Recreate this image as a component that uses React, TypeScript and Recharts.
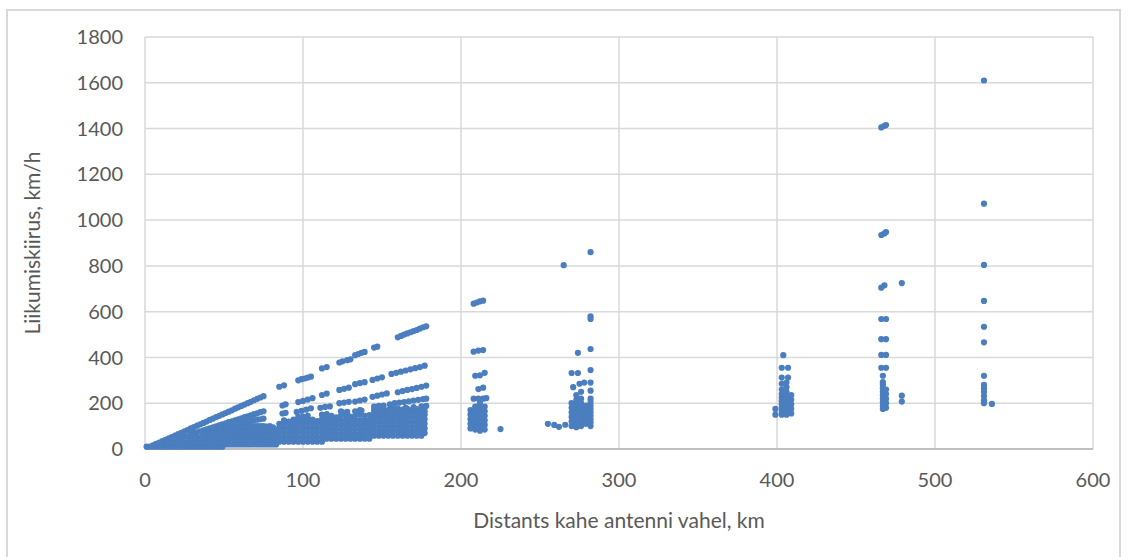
import { ScatterChart, Scatter, XAxis, YAxis, CartesianGrid } from 'recharts';

type Col = [number, number[]];
type Pair = [number, number];

const xTicks = [0, 100, 200, 300, 400, 500, 600];
const yTicks = [0, 200, 400, 600, 800, 1000, 1200, 1400, 1600, 1800];

// dense block, short distances (km -> speeds km/h)
const shortBlock: Col[] = [
  [1, [10]], [3, [10]], [5, [10, 16]], [7, [10, 22]], [9, [10, 28]],
  [11, [10, 34]], [13, [10, 25, 40]], [15, [10, 28, 46]], [17, [10, 30, 52]],
  [19, [10, 30, 58]], [21, [10, 30, 48, 65]], [23, [10, 30, 50, 71]],
  [25, [10, 30, 55, 77]], [27, [10, 30, 55, 83]], [29, [10, 30, 50, 70, 90]],
  [31, [10, 30, 50, 72, 96]], [33, [10, 30, 50, 73, 102]],
  [35, [10, 30, 50, 77]], [37, [10, 30, 50, 65, 81]], [39, [10, 30, 50, 68, 86]],
  [41, [10, 30, 50, 70, 90]], [43, [10, 30, 50, 72, 95]], [45, [10, 30, 50, 75, 99]],
  [47, [10, 30, 50, 70, 88, 103]], [49, [10, 30, 50, 70, 90, 108]],
  [51, [20, 40, 60, 80, 95, 112]], [53, [20, 40, 60, 80, 98, 117]],
  [55, [20, 40, 60, 80, 100, 121]], [57, [20, 40, 60, 80, 103, 125]],
  [59, [20, 40, 60, 80, 105, 130]], [61, [20, 40, 60, 80, 100, 115, 134]],
  [63, [20, 40, 60, 80, 100, 118, 139]], [65, [20, 40, 60, 80, 100, 120, 143]],
  [67, [20, 40, 60, 80, 100, 123, 147]], [69, [20, 40, 60, 80, 100, 126, 152]],
  [71, [20, 40, 60, 80, 100, 128, 156]], [73, [20, 40, 60, 80, 100, 130, 161]],
  [75, [20, 40, 60, 80, 100, 133, 165]], [77, [20, 40, 60, 80, 98]],
  [79, [20, 40, 60, 80, 100]], [81, [20, 40, 60, 80, 95]], [83, [20, 40, 60, 85]],
];

// dense block, 85-178 km
const midBlock: Col[] = [
  [85, [32, 52, 72, 92, 110]], [88, [32, 52, 72, 92, 112, 125]],
  [91, [32, 52, 72, 92, 112, 120]], [94, [32, 52, 72, 92, 112, 128]],
  [97, [32, 52, 72, 92, 112, 125]], [100, [32, 52, 72, 92, 112, 130]],
  [103, [32, 52, 72, 92, 112, 126]], [106, [32, 52, 72, 92, 112, 128]],
  [109, [32, 52, 72, 92, 112, 122]], [112, [32, 52, 72, 92, 112, 130]],
  [115, [45, 65, 85, 105, 125, 140]], [118, [45, 65, 85, 105, 125, 145]],
  [121, [45, 65, 85, 105, 125, 138]], [124, [45, 65, 85, 105, 125, 145, 165]],
  [127, [45, 65, 85, 105, 125, 148]], [130, [45, 65, 85, 105, 125, 142]],
  [133, [45, 65, 85, 105, 125, 145]], [136, [45, 65, 85, 105, 125, 150, 170]],
  [139, [45, 65, 85, 105, 125, 145]], [142, [45, 65, 85, 105, 125, 148]],
  [145, [58, 78, 98, 118, 138, 158, 170]], [148, [58, 78, 98, 118, 138, 158, 168]],
  [151, [58, 78, 98, 118, 138, 158, 172]], [154, [58, 78, 98, 118, 138, 158, 170]],
  [157, [58, 78, 98, 118, 138, 158, 175]], [160, [58, 78, 98, 118, 138, 158, 170]],
  [163, [58, 78, 98, 118, 138, 158, 172]], [166, [58, 78, 98, 118, 138, 158, 175]],
  [169, [58, 78, 98, 118, 138, 158, 170]], [172, [58, 78, 98, 118, 138, 158, 174]],
  [175, [58, 78, 98, 118, 138, 158, 170]], [177, [70, 90, 110, 130, 150, 165]],
];

// the streaks above the block
const streakTop: Pair[] = [
  [35, 108], [37, 114], [39, 120], [41, 127], [43, 133], [45, 139], [47, 145],
  [49, 151], [51, 157], [53, 163], [55, 169], [57, 176], [59, 182], [61, 188],
  [63, 194], [65, 200], [67, 206], [69, 213], [71, 219], [73, 225], [75, 231],
  [85, 272], [88, 278], [97, 300], [99, 305], [101, 308], [103, 312], [105, 316],
  [112, 352], [115, 358], [123, 378], [125, 383], [128, 388], [130, 392],
  [133, 410], [135, 415], [137, 420], [139, 424], [145, 443], [147, 447],
  [160, 488], [162, 494], [164, 500], [166, 505], [168, 510], [170, 515],
  [172, 520], [174, 526], [176, 532], [178, 536],
];
const streak2: Pair[] = [
  [87, 190], [89, 195], [97, 205], [100, 210], [103, 216], [106, 222],
  [112, 236], [115, 242], [123, 258], [126, 263], [129, 268],
  [133, 283], [136, 288], [139, 292], [144, 302], [147, 308], [150, 313],
  [156, 328], [159, 333], [162, 338], [165, 343], [168, 348], [171, 353],
  [174, 358], [177, 364],
];
const streak3: Pair[] = [
  [87, 155], [89, 158], [96, 162], [99, 167], [102, 172], [105, 178],
  [111, 180], [114, 184], [117, 186], [123, 200], [126, 203], [129, 206],
  [133, 207], [136, 212], [139, 216], [144, 228], [147, 233], [150, 238],
  [153, 243], [160, 248], [163, 253], [166, 258], [169, 262], [172, 267],
  [175, 272], [178, 277],
];
const streak4: Pair[] = [
  [97, 140], [100, 142], [103, 145], [112, 150], [115, 152], [125, 160],
  [128, 162], [133, 165], [137, 168], [145, 185], [148, 188], [151, 190],
  [155, 195], [158, 200], [161, 203], [164, 205], [167, 208], [170, 212],
  [173, 215], [176, 218], [178, 220], [150, 172], [155, 175], [160, 178],
  [165, 180], [170, 183], [175, 186], [178, 188],
];

// scattered groups beyond 200 km
const group210: Col[] = [
  [206, [90, 110, 130, 150, 170]], [208, [635, 425, 220]],
  [209, [85, 105, 125, 145, 165, 185, 320]], [210, [640]],
  [211, [430, 262, 220]], [212, [80, 100, 120, 140, 160, 180, 200, 645, 322]],
  [214, [648, 432, 268, 220]], [215, [85, 105, 125, 145, 165, 185, 333]],
  [216, [222]], [225, [87]],
];
const group270: Col[] = [
  [255, [110]], [259, [105]], [262, [97]], [265, [803]], [266, [106]],
  [270, [100, 120, 140, 160, 180, 200, 332]], [271, [270]],
  [273, [95, 115, 135, 155, 175, 195, 215, 235]], [274, [420, 332]],
  [275, [285]], [276, [100, 120, 140, 160, 180, 200, 220, 250]],
  [278, [290]], [279, [110, 130, 150, 170, 190]],
  [282, [100, 115, 130, 145, 160, 175, 190, 205, 220, 255, 290, 345, 437, 568, 580, 860]],
];
const group405: Col[] = [
  [399, [150, 175]], [403, [150, 165, 180, 195, 210, 225, 240, 260, 285, 312, 355]],
  [404, [410]], [406, [150, 170, 190, 210, 230, 250, 270, 290]],
  [407, [312, 355]], [409, [155, 175, 195, 215, 235]],
];
const group467: Col[] = [
  [466, [1405, 935, 705, 568, 480, 411, 355]],
  [467, [175, 190, 205, 220, 235, 250, 265, 280, 292, 320]],
  [468, [1412, 942, 715]],
  [469, [1415, 948, 568, 480, 411, 355, 180, 200, 220, 240, 260]],
  [479, [725, 233, 207]],
];
const group532: Col[] = [
  [531, [1610, 1072, 804, 647, 534, 466, 320, 280, 265, 250, 232, 213, 200]],
  [536, [197]],
];

const fromCols = (cols: Col[]) => cols.flatMap(([d, vs]) => vs.map((v) => ({ x: d, y: v })));
const fromPairs = (pairs: Pair[]) => pairs.map(([d, v]) => ({ x: d, y: v }));

const points = [
  ...fromCols(shortBlock),
  ...fromCols(midBlock),
  ...fromPairs(streakTop),
  ...fromPairs(streak2),
  ...fromPairs(streak3),
  ...fromPairs(streak4),
  ...fromCols(group210),
  ...fromCols(group270),
  ...fromCols(group405),
  ...fromCols(group467),
  ...fromCols(group532),
];

const FONT = 'Lato, "Open Sans", sans-serif';
const TEXT = '#595959';
const DOT = '#4a7ebf';

const Dot = (props: any) => <circle cx={props.cx} cy={props.cy} r={3.1} fill={DOT} />;

export default function App() {
  return (
    <div style={{ position: 'absolute', left: 0, top: 0, width: 1128, height: 557, background: '#fff', overflow: 'hidden', fontFamily: FONT }}>
      <div style={{ position: 'absolute', left: 6, top: 9, width: 1115, height: 560, border: '2px solid #d9d9d9', boxSizing: 'border-box' }} />
      <ScatterChart
        width={1128}
        height={557}
        margin={{ top: 37, right: 35, bottom: 78, left: 20 }}
        style={{ position: 'absolute', left: 0, top: 0 }}
      >
        <CartesianGrid stroke="#d9d9d9" strokeWidth={1.5} />
        <XAxis
          type="number"
          dataKey="x"
          domain={[0, 600]}
          ticks={xTicks}
          height={30}
          tickLine={false}
          tickSize={0}
          tickMargin={24}
          axisLine={{ stroke: '#bfbfbf', strokeWidth: 2 }}
          tick={{ fill: TEXT, fontSize: 20, fontFamily: FONT }}
          label={{ value: 'Distants kahe antenni vahel, km', position: 'bottom', offset: 34, fill: TEXT, fontSize: 21, fontFamily: FONT }}
        />
        <YAxis
          type="number"
          dataKey="y"
          domain={[0, 1800]}
          ticks={yTicks}
          width={125}
          tickLine={false}
          tickSize={0}
          tickMargin={22}
          axisLine={false}
          tick={{ fill: TEXT, fontSize: 20, fontFamily: FONT }}
          label={{ value: 'Liikumiskiirus, km/h', angle: -90, position: 'insideLeft', offset: 13, fill: TEXT, fontSize: 21, fontFamily: FONT, style: { textAnchor: 'middle' } }}
        />
        <Scatter data={points} shape={Dot} isAnimationActive={false} />
      </ScatterChart>
    </div>
  );
}
